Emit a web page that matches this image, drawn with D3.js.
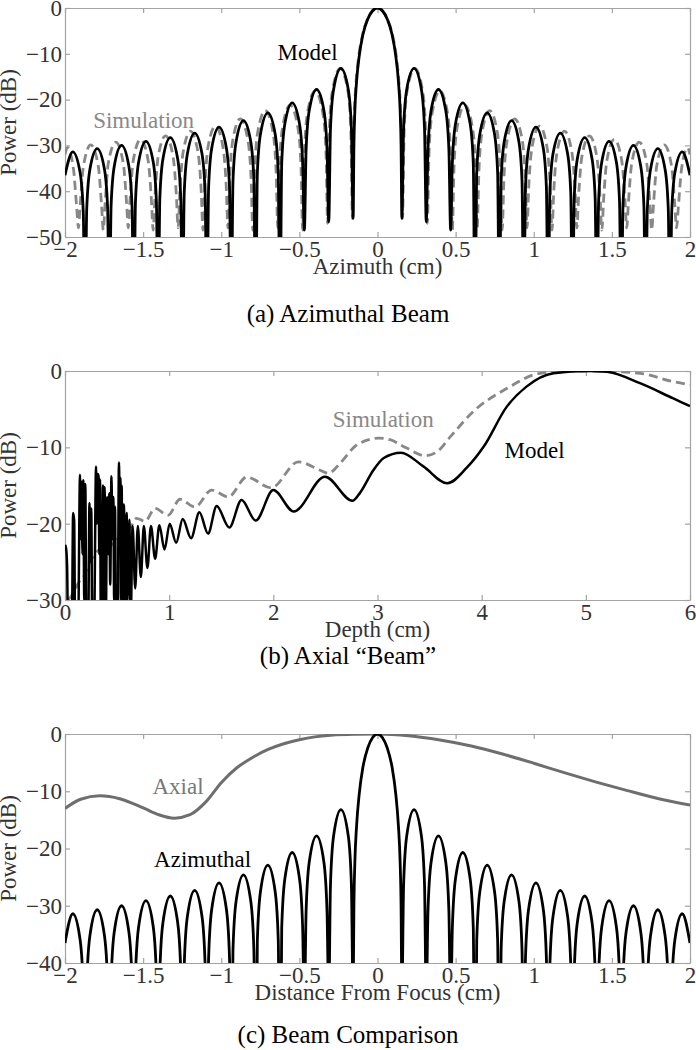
<!DOCTYPE html>
<html>
<head>
<meta charset="utf-8">
<script src="https://cdn.jsdelivr.net/npm/d3@7"></script>
<style>
  body { margin: 0; background: #fff; }
  text { font-family: "Liberation Serif", "Times New Roman", serif; }
</style>
</head>
<body>
<script>
// ---------------- DATA ----------------
// Panel (a)/(c): azimuthal beam model [cm, dB]
const azModel = [
  [-2.0,-36.5],[-1.950,-31.4],[-1.903,-36.0],[-1.883,-44.6],[-1.872,-70],
  [-1.861,-43.9],[-1.841,-35.3],[-1.794,-30.7],[-1.747,-35.3],[-1.727,-43.9],[-1.716,-70],
  [-1.705,-43.2],[-1.685,-34.6],[-1.638,-30.0],[-1.591,-34.6],[-1.571,-43.2],[-1.560,-70],
  [-1.549,-42.3],[-1.529,-33.7],[-1.482,-29.1],[-1.435,-33.7],[-1.415,-42.3],[-1.404,-70],
  [-1.393,-41.5],[-1.373,-32.9],[-1.326,-28.3],[-1.279,-32.9],[-1.259,-41.5],[-1.248,-70],
  [-1.237,-40.5],[-1.217,-31.9],[-1.170,-27.3],[-1.123,-31.9],[-1.103,-40.5],[-1.092,-70],
  [-1.081,-39.2],[-1.061,-30.6],[-1.014,-26.0],[-0.967,-30.6],[-0.947,-39.2],[-0.936,-70],
  [-0.925,-37.8],[-0.905,-29.2],[-0.858,-24.6],[-0.811,-29.2],[-0.791,-37.8],[-0.780,-70],
  [-0.769,-36.1],[-0.749,-27.5],[-0.702,-22.9],[-0.655,-27.5],[-0.635,-36.1],[-0.624,-70],
  [-0.613,-33.9],[-0.593,-25.3],[-0.546,-20.7],[-0.499,-25.3],[-0.479,-33.9],[-0.468,-48.5],
  [-0.457,-31.0],[-0.437,-22.4],[-0.390,-17.8],[-0.343,-22.4],[-0.323,-31.0],[-0.312,-46.7],
  [-0.301,-26.4],[-0.281,-17.8],[-0.234,-13.2],[-0.187,-17.8],[-0.167,-26.4],[-0.156,-45.9],
  [-0.151,-30.2],[-0.145,-22.5],[-0.134,-16.1],[-0.117,-10.5],[-0.094,-5.9],[-0.062,-2.4],[-0.031,-0.6],
  [0,0],
  [0.031,-0.6],[0.062,-2.4],[0.094,-5.9],[0.117,-10.5],[0.134,-16.1],[0.145,-22.5],[0.151,-30.2],
  [0.156,-45.9],[0.167,-26.4],[0.187,-17.8],[0.234,-13.2],[0.281,-17.8],[0.301,-26.4],
  [0.312,-46.7],[0.323,-31.0],[0.343,-22.4],[0.390,-17.8],[0.437,-22.4],[0.457,-31.0],
  [0.468,-48.5],[0.479,-33.9],[0.499,-25.3],[0.546,-20.7],[0.593,-25.3],[0.613,-33.9],
  [0.624,-70],[0.635,-36.1],[0.655,-27.5],[0.702,-22.9],[0.749,-27.5],[0.769,-36.1],
  [0.780,-70],[0.791,-37.8],[0.811,-29.2],[0.858,-24.6],[0.905,-29.2],[0.925,-37.8],
  [0.936,-70],[0.947,-39.2],[0.967,-30.6],[1.014,-26.0],[1.061,-30.6],[1.081,-39.2],
  [1.092,-70],[1.103,-40.5],[1.123,-31.9],[1.170,-27.3],[1.217,-31.9],[1.237,-40.5],
  [1.248,-70],[1.259,-41.5],[1.279,-32.9],[1.326,-28.3],[1.373,-32.9],[1.393,-41.5],
  [1.404,-70],[1.415,-42.3],[1.435,-33.7],[1.482,-29.1],[1.529,-33.7],[1.549,-42.3],
  [1.560,-70],[1.571,-43.2],[1.591,-34.6],[1.638,-30.0],[1.685,-34.6],[1.705,-43.2],
  [1.716,-70],[1.727,-43.9],[1.747,-35.3],[1.794,-30.7],[1.841,-35.3],[1.861,-43.9],
  [1.872,-70],[1.883,-44.6],[1.903,-36.0],[1.950,-31.4],[2.0,-36.5]
];

// Panel (a): azimuthal beam simulation [cm, dB]
const azSim = [
  [-2.0,-32.0],[-1.985,-30.5],[-1.946,-35.1],[-1.925,-43.7],[-1.914,-48],
  [-1.903,-43.1],[-1.882,-34.5],[-1.835,-29.9],[-1.787,-34.5],[-1.766,-43.1],[-1.755,-48.5],
  [-1.743,-42.5],[-1.723,-33.9],[-1.675,-29.3],[-1.627,-33.9],[-1.606,-42.5],[-1.595,-48],
  [-1.584,-41.9],[-1.563,-33.3],[-1.516,-28.7],[-1.468,-33.3],[-1.447,-41.9],[-1.436,-48.5],
  [-1.424,-41.1],[-1.404,-32.5],[-1.356,-27.9],[-1.308,-32.5],[-1.287,-41.1],[-1.276,-48],
  [-1.265,-40.1],[-1.244,-31.5],[-1.197,-26.9],[-1.149,-31.5],[-1.128,-40.1],[-1.117,-48.5],
  [-1.105,-39.0],[-1.085,-30.4],[-1.037,-25.8],[-0.989,-30.4],[-0.968,-39.0],[-0.957,-48],
  [-0.946,-37.4],[-0.926,-28.8],[-0.878,-24.2],[-0.830,-28.8],[-0.809,-37.4],[-0.798,-48.5],
  [-0.786,-35.6],[-0.766,-27.0],[-0.718,-22.4],[-0.670,-27.0],[-0.649,-35.6],[-0.638,-48],
  [-0.627,-34.4],[-0.606,-25.8],[-0.559,-21.2],[-0.511,-25.8],[-0.490,-34.4],[-0.479,-48.5],
  [-0.467,-31.3],[-0.447,-22.7],[-0.399,-18.1],[-0.351,-22.7],[-0.330,-31.3],[-0.319,-47],
  [-0.308,-26.4],[-0.287,-17.8],[-0.239,-13.2],[-0.191,-17.8],[-0.171,-26.4],[-0.160,-46],
  [-0.155,-30.2],[-0.148,-22.5],[-0.137,-16.1],[-0.120,-10.5],[-0.096,-5.9],[-0.064,-2.4],[-0.032,-0.6],
  [0,0],
  [0.032,-0.6],[0.064,-2.4],[0.096,-5.9],[0.120,-10.5],[0.137,-16.1],[0.148,-22.5],[0.155,-30.2],
  [0.160,-46],[0.171,-26.4],[0.191,-17.8],[0.239,-13.2],[0.287,-17.8],[0.308,-26.4],
  [0.319,-47],[0.330,-31.3],[0.351,-22.7],[0.399,-18.1],[0.447,-22.7],[0.467,-31.3],
  [0.479,-48.5],[0.490,-34.4],[0.511,-25.8],[0.559,-21.2],[0.606,-25.8],[0.627,-34.4],
  [0.638,-48],[0.649,-35.6],[0.670,-27.0],[0.718,-22.4],[0.766,-27.0],[0.786,-35.6],
  [0.798,-48.5],[0.809,-37.4],[0.830,-28.8],[0.878,-24.2],[0.926,-28.8],[0.946,-37.4],
  [0.957,-48],[0.968,-39.0],[0.989,-30.4],[1.037,-25.8],[1.085,-30.4],[1.105,-39.0],
  [1.117,-48.5],[1.128,-40.1],[1.149,-31.5],[1.197,-26.9],[1.244,-31.5],[1.265,-40.1],
  [1.276,-48],[1.287,-41.1],[1.308,-32.5],[1.356,-27.9],[1.404,-32.5],[1.424,-41.1],
  [1.436,-48.5],[1.447,-41.9],[1.468,-33.3],[1.516,-28.7],[1.563,-33.3],[1.584,-41.9],
  [1.595,-48],[1.606,-42.5],[1.627,-33.9],[1.675,-29.3],[1.723,-33.9],[1.743,-42.5],
  [1.755,-48.5],[1.766,-43.1],[1.787,-34.5],[1.835,-29.9],[1.882,-34.5],[1.903,-43.1],
  [1.914,-48],[1.925,-43.7],[1.946,-35.1],[1.985,-30.5],[2.0,-32.0]
];

// Panel (b): axial beam model [depth cm, dB]
const axModel = [
  [0.0,-22.8],[0.01,-23.2],[0.02,-25.5],[0.03,-35],[0.05,-32],[0.065,-35],[0.078,-18.6],[0.088,-19.6],
  [0.098,-35],[0.125,-35],[0.144,-13.6],[0.152,-22],[0.16,-14.5],[0.168,-24],[0.176,-14.3],[0.185,-30],
  [0.195,-14.8],[0.205,-35],[0.222,-35],[0.235,-17.3],[0.245,-25],[0.252,-18],[0.262,-35],[0.278,-35],
  [0.298,-12.5],[0.306,-20],[0.314,-13.5],[0.322,-13.8],[0.33,-24],[0.336,-14.2],[0.345,-35],
  [0.358,-26],[0.365,-15],[0.372,-30],[0.38,-15.2],[0.39,-35],[0.405,-16.5],[0.415,-24],[0.425,-16],
  [0.434,-28],[0.446,-13.8],[0.455,-22],[0.464,-16.5],[0.472,-30],[0.48,-17.8],[0.49,-35],[0.505,-35],
  [0.518,-12.0],[0.526,-18],[0.532,-14],[0.538,-30],[0.544,-15],[0.552,-30],[0.566,-17.5],[0.575,-35],
  [0.592,-18.6],[0.6,-30],[0.618,-19.5],[0.63,-33],
  [0.649,-20.3],[0.674,-28.5],[0.699,-20.3],[0.728,-27.0],[0.757,-20.3],[0.791,-25.8],[0.825,-20.3],
  [0.865,-24.6],[0.906,-20.2],[0.955,-23.4],[1.005,-20.0],[1.067,-22.5],[1.13,-19.4],[1.21,-21.9],
  [1.29,-18.5],[1.373,-21.3],[1.456,-17.7],[1.577,-20.5],[1.695,-16.9],[1.83,-19.6],[2.0,-15.6],
  [2.196,-18.4],[2.496,-13.85],[2.76,-17.0],[2.83,-16.0],[2.96,-13.0],[3.06,-11.4],[3.225,-10.7],
  [3.44,-12.5],[3.67,-14.7],[3.855,-12.7],[4.02,-9.9],[4.24,-4.7],[4.43,-2.05],[4.69,-0.3],
  [5.02,0],[5.2,-0.1],[5.52,-1.6],[5.84,-3.6],[6.0,-4.6]
];

// Panel (b): axial beam simulation [depth cm, dB]
const axSim = [
  [0.03,-30],[0.08,-29.1],[0.144,-27.4],[0.176,-27],[0.24,-25.0],[0.27,-24.3],[0.336,-23.4],
  [0.384,-23.8],[0.432,-23.0],[0.5,-22.1],[0.56,-21.3],[0.624,-20.6],[0.688,-19.3],[0.768,-19.7],
  [0.864,-18.0],[0.99,-18.9],[1.104,-16.8],[1.248,-17.8],[1.408,-15.6],[1.568,-16.5],[1.744,-13.9],
  [1.98,-15.3],[2.24,-11.9],[2.45,-13.0],[2.53,-13.4],[2.64,-12.1],[2.8,-9.7],[3.01,-8.8],
  [3.12,-9.0],[3.28,-10.1],[3.456,-11.1],[3.57,-10.6],[3.7,-8.6],[3.92,-5.3],[4.24,-2.3],
  [4.56,-0.3],[4.9,0],[5.1,0],[5.52,-0.3],[5.84,-1.4],[6.0,-1.8]
];

// Panel (c): axial beam about the focus [cm, dB]
const axialFocus = [
  [-2.0,-13.0],[-1.9,-11.4],[-1.776,-10.8],[-1.65,-11.3],[-1.5,-12.9],[-1.4,-14.1],[-1.3,-14.7],
  [-1.2,-14.1],[-1.1,-11.9],[-1.0,-8.5],[-0.9,-5.9],[-0.8,-4.1],[-0.7,-2.7],[-0.6,-1.7],[-0.5,-1.0],
  [-0.4,-0.5],[-0.3,-0.2],[-0.15,-0.03],[0,0],[0.2,-0.3],[0.4,-1.05],[0.6,-2.1],[0.8,-3.5],
  [1.0,-5.1],[1.2,-6.8],[1.4,-8.4],[1.6,-9.9],[1.8,-11.3],[2.0,-12.4]
];

// Ticks
const azTicks = [-2,-1.5,-1,-0.5,0,0.5,1,1.5,2];
const depthTicks = [0,1,2,3,4,5,6];
const dbTicksA = [0,-10,-20,-30,-40,-50];
const dbTicksB = [0,-10,-20,-30];
const dbTicksC = [0,-10,-20,-30,-40];

// ---------------- DRAWING ----------------
const W = 696, H = 1050;
const L = 65, R = 690;
const svg = d3.select("body").append("svg").attr("width", W).attr("height", H);

const fmt = d => d < 0 ? "\u2212" + Math.abs(d) : String(d);
const AX = "#a3a3a3", TXT = "#333";

function panel(id, top, bottom, xDom, yDom, xTicks, yTicks, xLabel, caption, capY) {
  const x = d3.scaleLinear().domain(xDom).range([L, R]);
  const y = d3.scaleLinear().domain(yDom).range([bottom, top]);
  const g = svg.append("g");
  g.append("clipPath").attr("id", "clip" + id)
    .append("rect").attr("x", L).attr("y", top).attr("width", R - L).attr("height", bottom - top);

  const styleAxis = (sel) => {
    sel.selectAll(".domain").attr("stroke", AX).attr("stroke-width", 1.2);
    sel.selectAll(".tick line").attr("stroke", AX).attr("stroke-width", 1.2);
    sel.selectAll("text").attr("fill", TXT).style("font-size", "23px")
      .style("font-family", '"Liberation Serif", serif');
  };
  g.append("g").attr("transform", `translate(0,${bottom})`)
    .call(d3.axisBottom(x).tickValues(xTicks).tickSize(-5).tickSizeOuter(0).tickPadding(4).tickFormat(fmt))
    .call(styleAxis);
  g.append("g").attr("transform", `translate(0,${top})`)
    .call(d3.axisTop(x).tickValues(xTicks).tickSize(-5).tickSizeOuter(0).tickFormat(""))
    .call(styleAxis);
  g.append("g").attr("transform", `translate(${L},0)`)
    .call(d3.axisLeft(y).tickValues(yTicks).tickSize(-5).tickSizeOuter(0).tickPadding(3).tickFormat(fmt))
    .call(styleAxis);
  g.append("g").attr("transform", `translate(${R},0)`)
    .call(d3.axisRight(y).tickValues(yTicks).tickSize(-5).tickSizeOuter(0).tickFormat(""))
    .call(styleAxis);

  g.append("text").attr("transform", `translate(16,${(top + bottom) / 2}) rotate(-90)`)
    .attr("text-anchor", "middle").attr("fill", TXT).style("font-size", "23px").text("Power (dB)");
  g.append("text").attr("x", (L + R) / 2).attr("y", bottom + 37)
    .attr("text-anchor", "middle").attr("fill", TXT).style("font-size", "23px").text(xLabel);
  g.append("text").attr("x", W / 2).attr("y", capY)
    .attr("text-anchor", "middle").attr("fill", "#000").style("font-size", "25px").text(caption);

  const plot = g.append("g").attr("clip-path", `url(#clip${id})`);
  return { x, y, g, plot };
}

function drawLine(p, data, color, width, dash) {
  const line = d3.line().x(d => p.x(d[0])).y(d => p.y(d[1])).curve(d3.curveMonotoneX);
  const path = p.plot.append("path").datum(data).attr("d", line)
    .attr("fill", "none").attr("stroke", color).attr("stroke-width", width)
    .attr("stroke-linejoin", "round");
  if (dash) path.attr("stroke-dasharray", dash);
}
function label(p, xv, yv, txt, color) {
  p.g.append("text").attr("x", p.x(xv)).attr("y", p.y(yv)).attr("fill", color)
    .style("font-size", "23px").text(txt);
}

// (a)
const pa = panel("a", 8, 237, [-2, 2], [-50, 0], azTicks, dbTicksA, "Azimuth (cm)", "(a) Azimuthal Beam", 322);
drawLine(pa, azSim, "#888", 2.8, "9,5");
drawLine(pa, azModel, "#000", 2.8);
label(pa, -0.64, -11.4, "Model", "#000");
label(pa, -1.82, -26.2, "Simulation", "#888");

// (b)
const pb = panel("b", 371, 600, [0, 6], [-30, 0], depthTicks, dbTicksB, "Depth (cm)", "(b) Axial \u201CBeam\u201D", 664);
drawLine(pb, axSim, "#888", 2.8, "9,5");
drawLine(pb, axModel, "#000", 2.5);
label(pb, 2.57, -7.3, "Simulation", "#888");
label(pb, 4.22, -11.4, "Model", "#000");

// (c)
const pc = panel("c", 734, 963, [-2, 2], [-40, 0], azTicks, dbTicksC, "Distance From Focus (cm)", "(c) Beam Comparison", 1043);
drawLine(pc, axialFocus, "#6e6e6e", 3);
drawLine(pc, azModel, "#000", 2.8);
label(pc, -1.44, -10.5, "Axial", "#777");
label(pc, -1.43, -23.3, "Azimuthal", "#000");
</script>
</body>
</html>
